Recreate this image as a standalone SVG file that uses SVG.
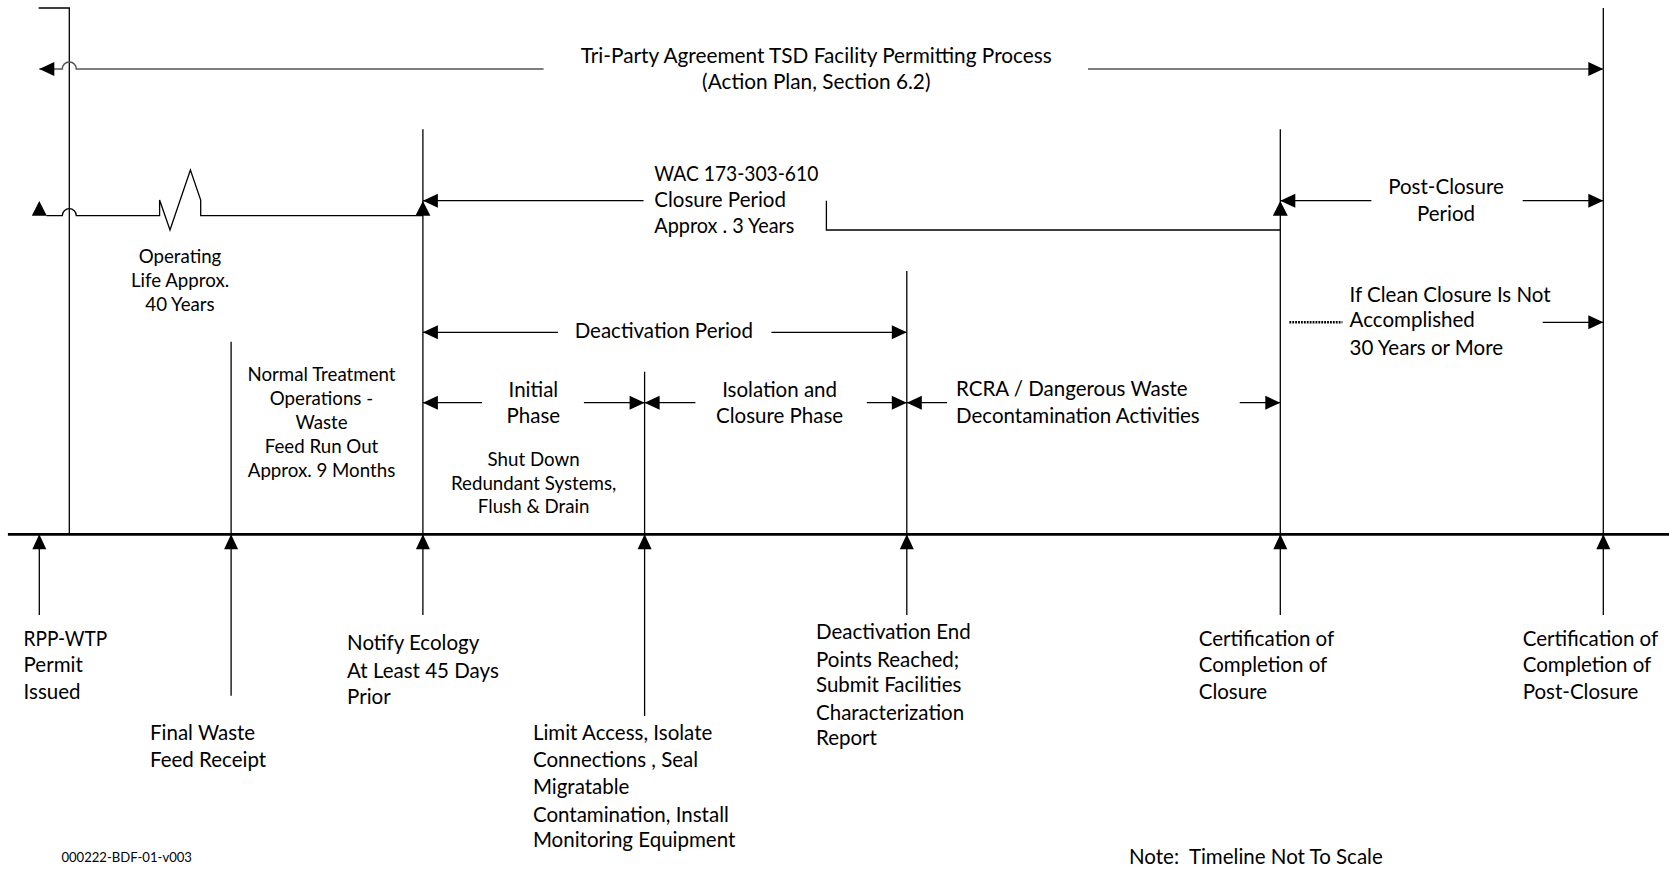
<svg xmlns="http://www.w3.org/2000/svg" width="1669" height="870" viewBox="0 0 1669 870">
<style>
text{font-family:Lato,"Open Sans","Liberation Sans",sans-serif;fill:#000}
.l{font-size:20.5px}
.s{font-size:18.7px}
.c{text-anchor:middle}
.ln{fill:none;stroke:#000;stroke-width:1.3}
.gr{fill:none;stroke:#555;stroke-width:1.6}
.ar{marker-end:url(#ah)}
.ah{fill:#000}
</style>
<defs>
<marker id="ah" markerUnits="userSpaceOnUse" markerWidth="15" markerHeight="14" refX="15" refY="7" orient="auto" overflow="visible">
<path d="M0,0 L15,7 L0,14 z" fill="#000"/>
</marker>
</defs>
<rect width="1669" height="870" fill="#fff"/>
<g id="connectors">
<path class="ln" d="M7.9,534.3 H1669" style="stroke-width:2.7"/>
<path class="ln" d="M38.6,8 H69.3 V534.3"/>
<path class="ln" d="M1603.3,8 V534.3"/>
<path class="ln" d="M231.1,341.7 V534.3"/>
<path class="ln" d="M422.9,129.3 V534.3"/>
<path class="ln" d="M644.6,371.7 V534.3"/>
<path class="ln" d="M906.8,271 V534.3"/>
<path class="ln" d="M1280.3,129.3 V534.3"/>
<path class="gr ar" d="M543.6,69 H76.3 A7,7 0 0 0 62.3,69 H39.3"/>
<path class="gr ar" d="M1088,69 H1603.3"/>
<path class="ln" d="M46.4,215.7 H62.3 A7,7 0 0 1 76.3,215.7 H159.6 V200 L170,230 L190.4,170 L200.7,200 V215.7 H422.9"/>
<polygon class="ah" points="39.3,201 46.8,215.7 31.8,215.7"/>
<polygon class="ah" points="422.9,201 430.4,215.7 415.4,215.7"/>
<polygon class="ah" points="1280.3,201 1287.8,215.7 1272.8,215.7"/>
<path class="ln ar" d="M643.6,200.7 H422.9"/>
<path class="ln" d="M826.4,200.7 V230 H1280.3"/>
<path class="ln ar" d="M1371.4,200.7 H1280.3"/>
<path class="ln ar" d="M1522.7,200.7 H1603.3"/>
<path class="ln" d="M1289.4,322.3 H1342.4" style="stroke-width:2.6;stroke-dasharray:1.8 1.1"/>
<path class="ln ar" d="M1542.7,322.3 H1603.3"/>
<path class="ln ar" d="M557.9,332.3 H422.9"/>
<path class="ln ar" d="M771.4,332.3 H906.8"/>
<path class="ln ar" d="M482,402.7 H422.9"/>
<path class="ln ar" d="M583.9,402.7 H644.6"/>
<path class="ln ar" d="M695.4,402.7 H644.6"/>
<path class="ln ar" d="M866.8,402.7 H906.8"/>
<path class="ln ar" d="M947.1,402.7 H906.8"/>
<path class="ln ar" d="M1239.7,402.7 H1280.3"/>
<path class="ln ar" d="M39.3,615 V534.3"/>
<path class="ln ar" d="M231.1,695.7 V534.3"/>
<path class="ln ar" d="M422.9,615 V534.3"/>
<path class="ln ar" d="M644.6,716 V534.3"/>
<path class="ln ar" d="M906.8,615 V534.3"/>
<path class="ln ar" d="M1280.3,615 V534.3"/>
<path class="ln ar" d="M1603.3,615 V534.3"/>
</g>
<g id="title" class="l c" style="font-size:20.8px">
<text x="816.3" y="63.3">Tri-Party Agreement TSD Facility Permitting Process</text>
<text x="816.3" y="88.5">(Action Plan, Section 6.2)</text>
</g>
<g id="closure-period" class="l">
<text x="654.3" y="181" textLength="164" lengthAdjust="spacingAndGlyphs">WAC 173-303-610</text>
<text x="654.3" y="206.7">Closure Period</text>
<text x="654.3" y="233.3" textLength="140" lengthAdjust="spacingAndGlyphs">Approx . 3 Years</text>
</g>
<g id="post-closure-period" class="l c">
<text x="1446" y="194">Post-Closure</text>
<text x="1446" y="220.7">Period</text>
</g>
<g id="operating-life" class="s c">
<text x="180" y="263.3">Operating</text>
<text x="180" y="287.3">Life Approx.</text>
<text x="180" y="310.7">40 Years</text>
</g>
<g id="clean-closure" class="l">
<text x="1349.6" y="301.7">If Clean Closure Is Not</text>
<text x="1349.6" y="327.3">Accomplished</text>
<text x="1349.6" y="355">30 Years or More</text>
</g>
<g id="deactivation-period" class="l c">
<text x="663.8" y="338.3">Deactivation Period</text>
</g>
<g id="normal-operations" class="s c">
<text x="321.5" y="381">Normal Treatment</text>
<text x="321.5" y="405">Operations -</text>
<text x="321.5" y="429">Waste</text>
<text x="321.5" y="452.7">Feed Run Out</text>
<text x="321.5" y="476.7">Approx. 9 Months</text>
</g>
<g id="initial-phase">
<text class="l c" x="533.4" y="396.7">Initial</text>
<text class="l c" x="533.4" y="422.7">Phase</text>
<text class="s c" x="533.6" y="465.7">Shut Down</text>
<text class="s c" x="533.6" y="490">Redundant Systems,</text>
<text class="s c" x="533.6" y="513.3">Flush &amp; Drain</text>
</g>
<g id="isolation-phase" class="l c">
<text x="779.6" y="396.7">Isolation and</text>
<text x="779.6" y="423.3">Closure Phase</text>
</g>
<g id="rcra-decon" class="l">
<text x="956" y="396.2">RCRA / Dangerous Waste</text>
<text x="956" y="423.3">Decontamination Activities</text>
</g>
<g id="m-permit" class="l">
<text x="23.6" y="646" textLength="83.6" lengthAdjust="spacingAndGlyphs">RPP-WTP</text>
<text x="23.6" y="672.3">Permit</text>
<text x="23.6" y="699.3">Issued</text>
</g>
<g id="m-final-waste" class="l">
<text x="150" y="740">Final Waste</text>
<text x="150" y="766.7">Feed Receipt</text>
</g>
<g id="m-notify" class="l">
<text x="347.1" y="650">Notify Ecology</text>
<text x="347.1" y="677.7">At Least 45 Days</text>
<text x="347.1" y="704.3">Prior</text>
</g>
<g id="m-limit-access" class="l">
<text x="532.9" y="740">Limit Access, Isolate</text>
<text x="532.9" y="766.7">Connections , Seal</text>
<text x="532.9" y="794.3">Migratable</text>
<text x="532.9" y="821.7">Contamination, Install</text>
<text x="532.9" y="846.7">Monitoring Equipment</text>
</g>
<g id="m-deactivation-end" class="l">
<text x="816" y="639">Deactivation End</text>
<text x="816" y="666.7">Points Reached;</text>
<text x="816" y="692.3">Submit Facilities</text>
<text x="816" y="720">Characterization</text>
<text x="816" y="745">Report</text>
</g>
<g id="m-cert-closure" class="l">
<text x="1198.7" y="646">Certification of</text>
<text x="1198.7" y="672.3">Completion of</text>
<text x="1198.7" y="699.3">Closure</text>
</g>
<g id="m-cert-post-closure" class="l">
<text x="1522.7" y="646">Certification of</text>
<text x="1522.7" y="672.3">Completion of</text>
<text x="1522.7" y="699.3">Post-Closure</text>
</g>
<g id="note" class="l">
<text x="1129" y="864.3">Note:&#160; Timeline Not To Scale</text>
</g>
<g id="doc-id">
<text x="61.4" y="861.7" style="font-size:13.1px">000222-BDF-01-v003</text>
</g>
</svg>
